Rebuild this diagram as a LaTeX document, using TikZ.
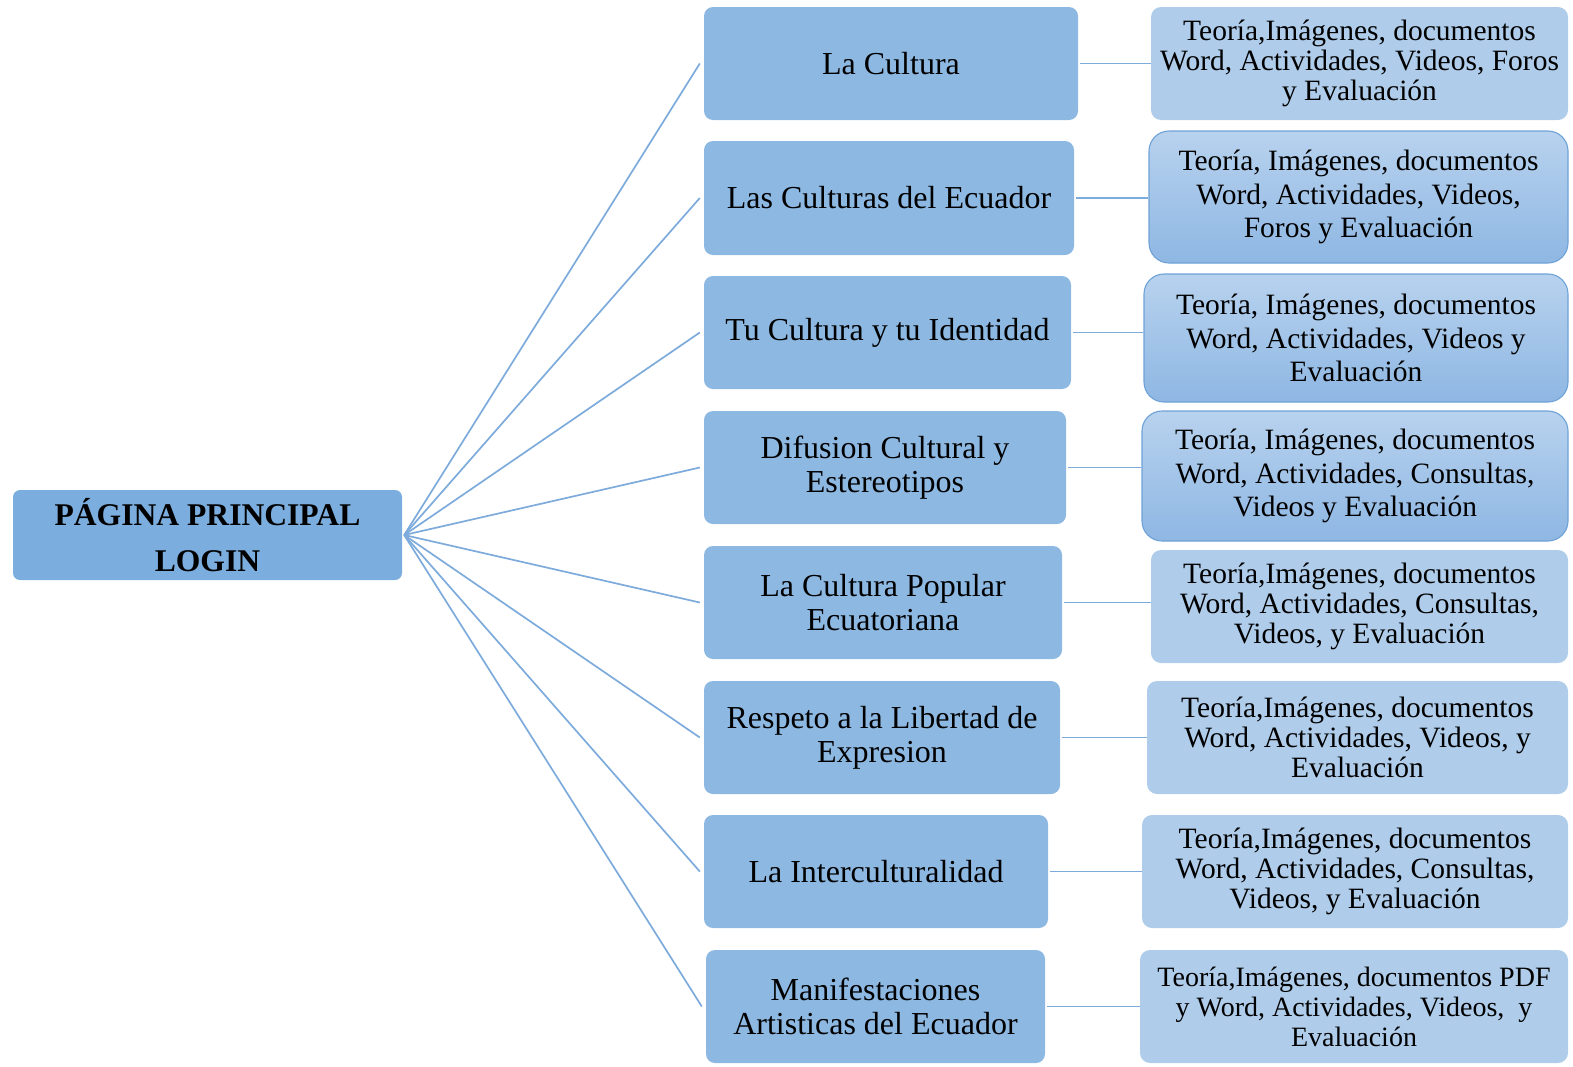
\documentclass[tikz,border=0pt]{standalone}
\usepackage{fontspec}
\setmainfont{Liberation Serif}
\definecolor{rootc}{HTML}{7BAEDE}
\definecolor{midc}{HTML}{8DB8E2}
\definecolor{rflat}{HTML}{AFCDEB}
\definecolor{gtop}{HTML}{B8D2EE}
\definecolor{gbot}{HTML}{8EB7E3}
\definecolor{gborder}{HTML}{6EA2D7}
\definecolor{linec}{HTML}{7DABDC}
\tikzset{
  rootbox/.style={fill=rootc, rounded corners=7pt, inner sep=0pt, align=center,
    font=\fontsize{31.6}{46}\selectfont\bfseries},
  midbox/.style={fill=midc, rounded corners=9pt, inner sep=0pt, align=center,
    font=\fontsize{32}{34}\selectfont},
  resflat/.style={fill=rflat, rounded corners=10pt, inner sep=0pt, align=center,
    font=\fontsize{29.5}{30}\selectfont},
  resgrad/.style={top color=gtop, bottom color=gbot, draw=gborder, line width=1.1pt,
    rounded corners=20pt, inner sep=0pt, align=center,
    font=\fontsize{29.5}{33.5}\selectfont},
  conn/.style={draw=linec, line width=1.7pt},
}
\begin{document}
\begin{tikzpicture}[x=1pt,y=-1pt]
\useasboundingbox (0,0) rectangle (1573,1066);
% root
\node[rootbox, minimum width=389pt, minimum height=90pt] (root) at (207.5,535) {PÁGINA PRINCIPAL\\LOGIN};
% middle boxes
\node[midbox, minimum width=374pt, minimum height=113pt] (m1) at (891,63.5) {La Cultura};
\node[midbox, minimum width=370pt, minimum height=114pt] (m2) at (889,198) {Las Culturas del Ecuador};
\node[midbox, minimum width=367pt, minimum height=113pt] (m3) at (887.5,332.5) {Tu Cultura y tu Identidad};
\node[midbox, minimum width=362pt, minimum height=113pt] (m4) at (885,467.5) {Difusion Cultural y\\Estereotipos};
\node[midbox, minimum width=358pt, minimum height=113pt] (m5) at (883,602.5) {La Cultura Popular\\Ecuatoriana};
\node[midbox, minimum width=356pt, minimum height=113pt] (m6) at (882,737.5) {Respeto a la Libertad de\\Expresion};
\node[midbox, minimum width=344pt, minimum height=113pt] (m7) at (876,871.5) {La Interculturalidad};
\node[midbox, minimum width=339pt, minimum height=113pt] (m8) at (875.5,1006.5) {Manifestaciones\\Artisticas del Ecuador};
% right boxes
\node[resflat, minimum width=417pt, minimum height=113pt] (r1) at (1359.5,63.5) {Teoría,Imágenes, documentos\\Word, Actividades, Videos, Foros\\y Evaluación};
\node[resgrad, minimum width=419pt, minimum height=132pt] (r2) at (1358.5,197) {Teoría, Imágenes, documentos\\Word, Actividades, Videos,\\Foros y Evaluación};
\node[resgrad, minimum width=424pt, minimum height=128pt] (r3) at (1356,338) {Teoría, Imágenes, documentos\\Word, Actividades, Videos y\\Evaluación};
\node[resgrad, minimum width=426pt, minimum height=130pt] (r4) at (1355,476) {Teoría, Imágenes, documentos\\Word, Actividades, Consultas,\\Videos y Evaluación};
\node[resflat, minimum width=417pt, minimum height=113pt] (r5) at (1359.5,606.5) {Teoría,Imágenes, documentos\\Word, Actividades, Consultas,\\Videos, y Evaluación};
\node[resflat, minimum width=421pt, minimum height=113pt] (r6) at (1357.5,737.5) {Teoría,Imágenes, documentos\\Word, Actividades, Videos, y\\Evaluación};
\node[resflat, minimum width=426pt, minimum height=113pt] (r7) at (1355,871.5) {Teoría,Imágenes, documentos\\Word, Actividades, Consultas,\\Videos, y Evaluación};
\node[resflat, minimum width=428pt, minimum height=113pt, font=\fontsize{28}{30}\selectfont] (r8) at (1354,1006.5) {Teoría,Imágenes, documentos PDF\\y Word, Actividades, Videos, \ y\\Evaluación};
% connectors root -> middle
\foreach \i in {1,...,8} {
  \draw[conn] ([xshift=2pt]root.east) -- ([xshift=-4pt]m\i.west);
}
% connectors middle -> right
\foreach \i in {1,...,8} {
  \draw[conn, line width=1.2pt] ([xshift=2pt]m\i.east) -- (r\i.west |- m\i.east);
}
\end{tikzpicture}
\end{document}
